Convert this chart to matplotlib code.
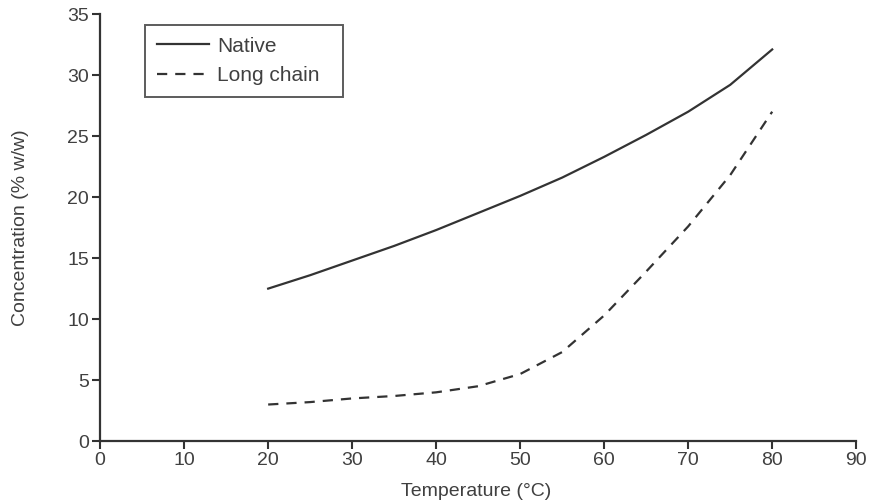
import matplotlib
matplotlib.use("Agg")
import matplotlib.pyplot as plt

plt.rcParams['font.family'] = ['Liberation Sans', 'DejaVu Sans']

# data
temp = [20, 25, 30, 35, 40, 45, 50, 55, 60, 65, 70, 75, 80]
native = [12.5, 13.6, 14.8, 16.0, 17.3, 18.7, 20.1, 21.6, 23.3, 25.1, 27.0, 29.2, 32.1]
long_chain = [3.0, 3.2, 3.5, 3.7, 4.0, 4.5, 5.5, 7.3, 10.3, 13.9, 17.6, 21.8, 27.0]

xticks = [0, 10, 20, 30, 40, 50, 60, 70, 80, 90]
yticks = [0, 5, 10, 15, 20, 25, 30, 35]

col = '#333333'
txt = '#404040'
fs = 14

fig = plt.figure(figsize=(8.71, 5.03), dpi=100)
ax = fig.add_axes([0.115, 0.123, 0.868, 0.849])

ax.plot(temp, native, color=col, lw=1.6, label='Native')
ax.plot(temp, long_chain, color=col, lw=1.6, dashes=(4.6, 3.6), label='Long chain')

ax.set_xlim(0, 90)
ax.set_ylim(0, 35)
ax.set_xticks(xticks)
ax.set_yticks(yticks)

for s in ['top', 'right']:
    ax.spines[s].set_visible(False)
for s in ['left', 'bottom']:
    ax.spines[s].set_color(col)
    ax.spines[s].set_linewidth(1.6)
ax.tick_params(direction='out', length=6, width=1.5, color=col,
               labelsize=fs, labelcolor=txt, pad=2)

ax.set_xlabel('Temperature (°C)', fontsize=fs, color=txt)
ax.set_ylabel('Concentration (% w/w)', fontsize=fs, color=txt)
ax.xaxis.set_label_coords(0.497, -0.098)
ax.yaxis.set_label_coords(-0.094, 0.5)

leg = ax.legend(loc='upper left', bbox_to_anchor=(0.0595, 0.5, 0.262, 0.474),
                mode='expand', fontsize=15,
                frameon=True, fancybox=False, handlelength=2.5,
                borderpad=0.55, labelspacing=0.5, handletextpad=0.4,
                borderaxespad=0)
leg.get_frame().set_edgecolor(col)
leg.get_frame().set_linewidth(1.4)
for t in leg.get_texts():
    t.set_color(txt)

fig.savefig('out.png', dpi=100)
